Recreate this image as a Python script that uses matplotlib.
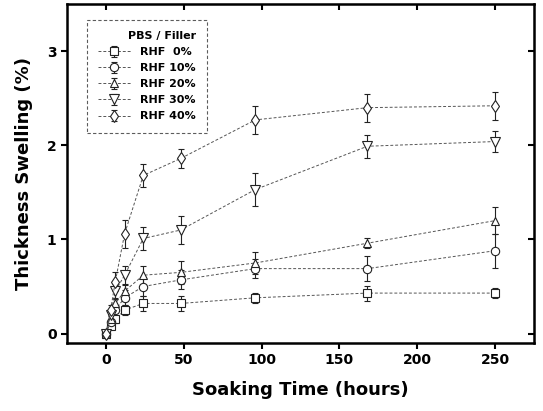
import numpy as np
import matplotlib
matplotlib.use('Agg')
import matplotlib.pyplot as plt

# 数据
hours = [0, 3, 6, 12, 24, 48, 96, 168, 250]
labels = ['RHF  0%', 'RHF 10%', 'RHF 20%', 'RHF 30%', 'RHF 40%']
rhf0 = [0, 0.08, 0.15, 0.25, 0.32, 0.32, 0.38, 0.43, 0.43]
rhf10 = [0, 0.12, 0.25, 0.38, 0.50, 0.57, 0.69, 0.69, 0.88]
rhf20 = [0, 0.15, 0.32, 0.45, 0.62, 0.65, 0.75, 0.96, 1.20]
rhf30 = [0, 0.20, 0.45, 0.62, 1.01, 1.10, 1.53, 1.99, 2.04]
rhf40 = [0, 0.25, 0.55, 1.06, 1.68, 1.86, 2.27, 2.40, 2.42]
err0 = [0.02, 0.03, 0.04, 0.05, 0.08, 0.08, 0.05, 0.08, 0.05]
err10 = [0.02, 0.04, 0.05, 0.08, 0.10, 0.10, 0.10, 0.13, 0.18]
err20 = [0.02, 0.04, 0.06, 0.08, 0.10, 0.12, 0.12, 0.05, 0.14]
err30 = [0.02, 0.05, 0.08, 0.10, 0.12, 0.15, 0.18, 0.12, 0.11]
err40 = [0.02, 0.05, 0.10, 0.15, 0.12, 0.10, 0.15, 0.15, 0.15]

series = [rhf0, rhf10, rhf20, rhf30, rhf40]
errors = [err0, err10, err20, err30, err40]
markers = ['s', 'o', '^', 'v', 'd']
msizes = [5.5, 6, 6, 6.5, 6.5]

plt.rcParams['font.family'] = ['DejaVu Sans']
plt.rcParams['font.weight'] = 'bold'

fig = plt.figure(figsize=(5.43, 4.11), dpi=100)
ax = fig.add_axes([0.1234, 0.1655, 0.86, 0.8245])

for y, e, m, ms, lab in zip(series, errors, markers, msizes, labels):
    ax.errorbar(hours, y, yerr=e, fmt=m, linestyle=(0, (3, 2)), color='#555555',
                linewidth=0.7, markersize=ms, markerfacecolor='white',
                markeredgecolor='#222222', markeredgewidth=0.8,
                ecolor='#222222', elinewidth=0.8, capsize=2.5, capthick=0.8,
                label=lab)

ax.set_xlim(-25, 275)
ax.set_ylim(-0.1, 3.5)
ax.set_xticks([0, 50, 100, 150, 200, 250])
ax.set_yticks([0, 1, 2, 3])

for s in ax.spines.values():
    s.set_linewidth(1.8)

ax.tick_params(axis='both', direction='out', length=4, width=1.5, labelsize=10)
for lbl in ax.get_xticklabels() + ax.get_yticklabels():
    lbl.set_fontweight('bold')

top = ax.secondary_xaxis('top')
top.set_xticks([0, 50, 100, 150, 200, 250])
top.tick_params(direction='in', length=4, width=1.5, labeltop=False)
right = ax.secondary_yaxis('right')
right.set_yticks([0, 1, 2, 3])
right.tick_params(direction='in', length=4, width=1.5, labelright=False)

ax.set_xlabel('Soaking Time (hours)', fontsize=13, fontweight='bold', labelpad=10)
ax.set_ylabel('Thickness Swelling (%)', fontsize=13, fontweight='bold', labelpad=10)

leg = ax.legend(loc='upper left', bbox_to_anchor=(0.03, 0.97), title='PBS / Filler',
                prop={'size': 8, 'weight': 'bold'}, title_fontproperties={'size': 8, 'weight': 'bold'},
                frameon=True, fancybox=False, handlelength=3, borderpad=1.0,
                labelspacing=0.55, alignment='right')
leg.get_frame().set_edgecolor('#333333')
leg.get_frame().set_linestyle((0, (3, 2)))
leg.get_frame().set_linewidth(0.8)

fig.savefig('out.png', dpi=100)
